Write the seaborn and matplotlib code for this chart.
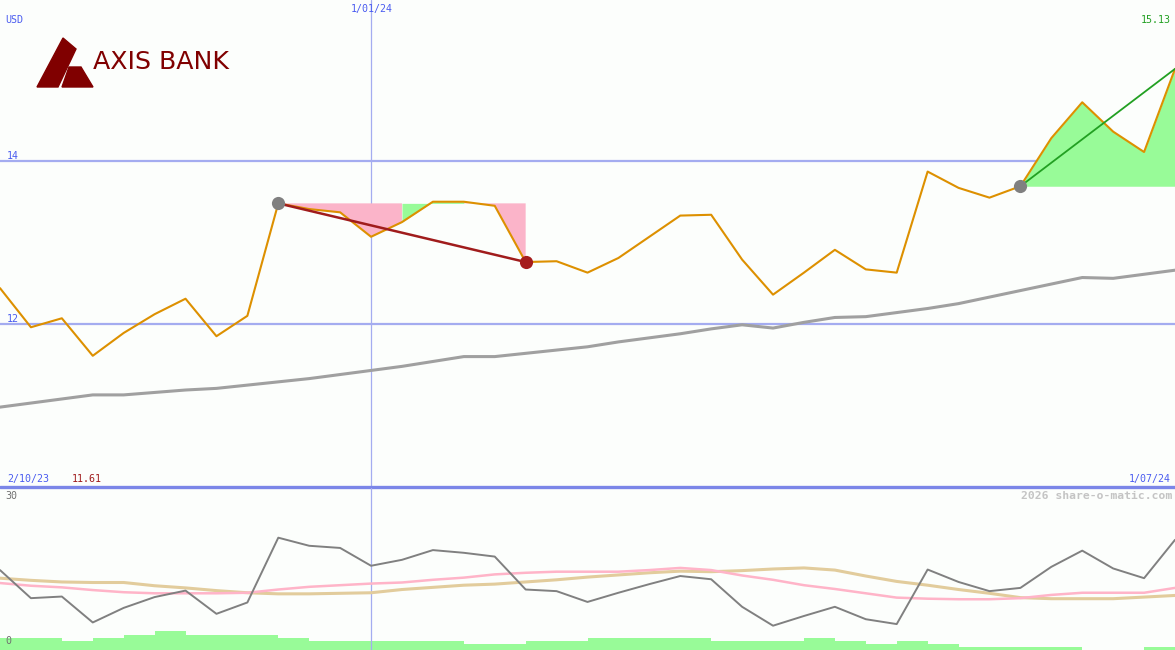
import numpy as np
import pandas as pd
import matplotlib
matplotlib.use("Agg")
import matplotlib.pyplot as plt
import seaborn as sns
from matplotlib.patches import Polygon

sns.set_style("white")
plt.rcParams['font.family'] = ['DejaVu Sans']

# weekly closes, 9 Oct 2023 .. 1 Jul 2024
weeks = pd.date_range("2023-10-09", periods=39, freq="7D")

close = [12.44, 11.96, 12.07, 11.61, 11.89, 12.12, 12.31, 11.85, 12.10, 13.48,
         13.41, 13.37, 13.07, 13.25, 13.50, 13.50, 13.45, 12.76, 12.77, 12.63,
         12.81, 13.07, 13.33, 13.34, 12.79, 12.36, 12.63, 12.91, 12.67, 12.63,
         13.87, 13.67, 13.55, 13.69, 14.28, 14.72, 14.36, 14.11, 15.13]

ma_long = [10.98, 11.03, 11.08, 11.13, 11.13, 11.16, 11.19, 11.21, 11.25, 11.29,
           11.33, 11.38, 11.43, 11.48, 11.54, 11.60, 11.60, 11.64, 11.68, 11.72,
           11.78, 11.83, 11.88, 11.94, 11.99, 11.95, 12.02, 12.08, 12.09, 12.14,
           12.19, 12.25, 12.33, 12.41, 12.49, 12.57, 12.56, 12.61, 12.66]

# lower panel (0..30)
osc = [14.8, 9.6, 9.9, 5.1, 7.8, 9.8, 11.0, 6.7, 8.8, 20.8,
       19.3, 18.9, 15.6, 16.7, 18.5, 18.0, 17.3, 11.2, 10.9, 8.9,
       10.6, 12.2, 13.7, 13.1, 8.0, 4.5, 6.3, 8.0, 5.7, 4.8,
       14.9, 12.6, 10.9, 11.5, 15.4, 18.4, 15.1, 13.3, 20.4]

osc_fast = [12.4, 11.9, 11.6, 11.1, 10.7, 10.5, 10.5, 10.5, 10.6, 11.2,
            11.7, 12.0, 12.3, 12.5, 13.0, 13.4, 14.0, 14.3, 14.5, 14.5,
            14.5, 14.8, 15.2, 14.8, 13.8, 13.0, 12.0, 11.3, 10.5, 9.7,
            9.5, 9.4, 9.4, 9.6, 10.2, 10.6, 10.6, 10.6, 11.5]

osc_slow = [13.3, 12.9, 12.6, 12.5, 12.5, 11.9, 11.5, 11.0, 10.6, 10.4,
            10.4, 10.5, 10.6, 11.2, 11.6, 12.0, 12.2, 12.6, 13.0, 13.5,
            13.9, 14.3, 14.6, 14.5, 14.7, 15.0, 15.2, 14.8, 13.7, 12.7,
            12.0, 11.2, 10.5, 9.7, 9.5, 9.5, 9.5, 9.8, 10.1]

volume = [4.1, 4.1, 3.0, 4.1, 5.0, 6.3, 5.0, 5.0, 5.0, 4.1,
          3.0, 3.0, 3.0, 3.0, 3.0, 2.1, 2.1, 3.0, 3.0, 4.0,
          4.0, 4.0, 4.0, 3.0, 3.0, 3.0, 4.0, 3.0, 2.0, 3.0,
          2.0, 1.0, 1.0, 1.0, 1.0, 0.0, 0.0, 1.0, 0.0]

swings = [(9, 17), (33, 38)]

BG = '#fcfefc'
GRID = '#a4acf0'
BLUE_TXT = '#4a5cf0'
PINK = '#fbb4c9'
GREEN = '#98fb98'
MONO = 'DejaVu Sans Mono'

W, H = 1175, 650
fig = plt.figure(figsize=(W / 100, H / 100), dpi=100, facecolor=BG)
ax = fig.add_axes([0, 163 / H, 1, 487 / H])
ax2 = fig.add_axes([0, 0, 1, 162 / H])
for a in (ax, ax2):
    a.set_facecolor(BG)
    a.set_xlim(weeks[0], weeks[-1])
    for s in a.spines.values():
        s.set_visible(False)
    a.set_xticks([])
    a.set_yticks([])
ax.set_ylim(10.0, 15.975)
ax2.set_ylim(0, 30)

jan = pd.Timestamp("2024-01-01")
ax.axhline(12, color=GRID, lw=1.6, zorder=0)
ax.axhline(14, color=GRID, lw=1.6, zorder=0)
ax.axvline(jan, color=GRID, lw=0.9, zorder=0)
ax2.axvline(jan, color=GRID, lw=0.9, zorder=0)
ax.axhline(10.0, color='#7b86e8', lw=2.4, clip_on=False, zorder=5)

# swing fills
cl = np.array(close)
for i0, i1 in swings:
    xs = weeks[i0:i1 + 1]
    ys = cl[i0:i1 + 1]
    trend = np.linspace(cl[i0], cl[i1], len(ys))
    level = cl[i0]
    n = len(ys)
    green_pts = np.zeros(n, bool)
    pink_pts = np.zeros(n, bool)
    for j in range(n - 1):
        up = ys[j + 1] >= ys[j] and ys[j] >= trend[j] and ys[j + 1] >= trend[j + 1]
        if cl[i1] > cl[i0] or up:
            green_pts[j] = green_pts[j + 1] = True
        else:
            pink_pts[j] = pink_pts[j + 1] = True
    ax.fill_between(xs, level, ys, where=pink_pts, color=PINK, lw=0, zorder=1)
    ax.fill_between(xs, level, ys, where=green_pts, color=GREEN, lw=0, zorder=1)
    col = '#a01c1c' if cl[i1] < cl[i0] else '#22a022'
    lw = 1.8 if cl[i1] < cl[i0] else 1.3
    sns.lineplot(x=[weeks[i0], weeks[i1]], y=[cl[i0], cl[i1]], ax=ax,
                 color=col, lw=lw, zorder=4)

sns.lineplot(x=weeks, y=ma_long, ax=ax, color='#a0a0a0', lw=2.2, zorder=2)
sns.lineplot(x=weeks, y=close, ax=ax, color='#dd9000', lw=1.5, zorder=3)

ax.scatter([weeks[9], weeks[33]], [close[9], close[33]], s=90, color='#808080',
           zorder=6, lw=0)
ax.scatter([weeks[17]], [close[17]], s=90, color='#a51c1c', zorder=6, lw=0)

# lower panel
tw = ax2.twinx()
tw.fill_between(weeks, volume, step='post', color=GREEN, lw=0)
tw.set_ylim(0, 54)
tw.axis('off')
ax2.set_zorder(tw.get_zorder() + 1)
ax2.patch.set_visible(False)
sns.lineplot(x=weeks, y=osc_slow, ax=ax2, color='#e2cc9c', lw=2.2)
sns.lineplot(x=weeks, y=osc_fast, ax=ax2, color='#ffb4c8', lw=1.8)
sns.lineplot(x=weeks, y=osc, ax=ax2, color='#808080', lw=1.4)
for a in (ax, ax2):
    a.set_xticks([])
    a.set_yticks([])
    a.set_xlabel("")
    a.set_ylabel("")


def ptext(x, y, s, **kw):
    kw.setdefault('family', MONO)
    kw.setdefault('fontsize', 7.2)
    fig.text(x / W, 1 - y / H, s, va='center', **kw)


ptext(5, 20, "USD", color=BLUE_TXT)
ptext(7, 156, "14", color=BLUE_TXT)
ptext(7, 319, "12", color=BLUE_TXT)
ptext(372, 9, "1/01/24", color=BLUE_TXT, ha='center')
ptext(1171, 20, "15.13", color='#22a022', ha='right')
ptext(7, 479, "2/10/23", color=BLUE_TXT)
ptext(72, 479, "11.61", color='#a01c1c')
ptext(1171, 479, "1/07/24", color=BLUE_TXT, ha='right')
ptext(5, 496, "30", color='#707070')
ptext(5, 641, "0", color='#707070')
ptext(1172, 496, "2026 share-o-matic.com", color='#c4c4c4', fontsize=8.2,
      fontweight='bold', ha='right')

# logo
def px(pts):
    return [(x / W, 1 - y / H) for x, y in pts]


fig.add_artist(Polygon(px([(37, 87), (63, 38), (76, 49), (58, 87)]),
                       closed=True, color='#800000', transform=fig.transFigure))
fig.add_artist(Polygon(px([(69, 67), (81, 67), (93, 87), (62, 87)]),
                       closed=True, color='#800000', transform=fig.transFigure))
fig.text(93 / W, 1 - 69 / H, "AXIS BANK", color='#800000', fontsize=18.2,
         va='baseline', ha='left')

fig.savefig("out.png", dpi=100, facecolor=BG)
